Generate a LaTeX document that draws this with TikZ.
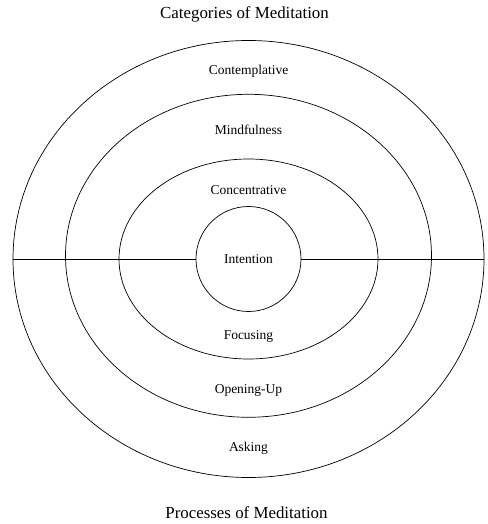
\documentclass[tikz,border=0pt]{standalone}
\usepackage{fontspec}
\setmainfont{Liberation Serif}
\usepackage{tikz}
\usetikzlibrary{shapes.geometric}

\tikzset{
  ring/.style={draw, ellipse, inner sep=0pt, line width=0.5pt},
  lbl/.style={font=\fontsize{9.6}{11}\selectfont},
  ttl/.style={font=\fontsize{12}{14}\selectfont}
}

\begin{document}
\begin{tikzpicture}

\useasboundingbox (-6.2125, -6.625) rectangle (5.9625, 6.475);

 \node[ring, minimum width=11.775cm, minimum height=10.925cm] (outer) at (0, 0) {};
 \node[ring, minimum width=9.15cm, minimum height=8.075cm] (mid) at (0, 0.08) {};
 \node[ring, minimum width=6.475cm, minimum height=5cm] (inner) at (0, 0) {};
 \node[ring, circle, minimum size=2.625cm, lbl] (intent) at (0, 0) {Intention};

\draw[line width=0.6pt] (outer.west) -- (intent.west);
\draw[line width=0.6pt] (intent.east) -- (outer.east);

 \node[ttl] (cat) at (-0.1, 6.125) {Categories of Meditation};
 \node[ttl] (proc) at (-0.05, -6.35) {Processes of Meditation};

 \node[lbl] (contemp) at (0, 4.7) {Contemplative};
 \node[lbl] (mindful) at (0, 3.225) {Mindfulness};
 \node[lbl] (concent) at (0, 1.725) {Concentrative};

 \node[lbl] (focus) at (0, -1.925) {Focusing};
 \node[lbl] (open) at (0, -3.275) {Opening-Up};
 \node[lbl] (ask) at (0, -4.725) {Asking};

\end{tikzpicture}
\end{document}
